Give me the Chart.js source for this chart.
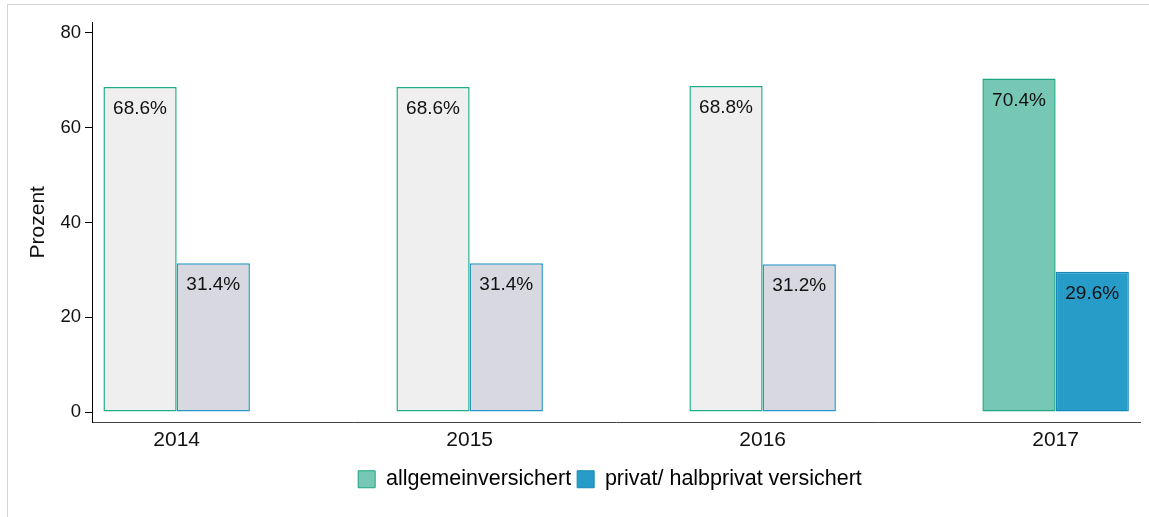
<!DOCTYPE html>
<html>
<head>
<meta charset="utf-8">
<script src="https://cdn.jsdelivr.net/npm/chart.js@4/dist/chart.umd.min.js"></script>
<style>
  html, body { margin: 0; padding: 0; background: #fff; }
  #frame {
    position: absolute; left: 7px; top: 4px; width: 1160px; height: 530px;
    border-top: 1px solid #d4d4d4; border-left: 1px solid #d4d4d4;
  }
  #wrap { position: absolute; left: 0; top: 0; width: 1149px; height: 517px; }
</style>
</head>
<body>
<div id="frame"></div>
<div id="wrap"><canvas id="myChart" width="1149" height="517"></canvas></div>
<script>
const years = ["2014", "2015", "2016", "2017"];
const allgemein = [68.6, 68.6, 68.8, 70.4];
const privat = [31.4, 31.4, 31.2, 29.6];
const yTicks = [0, 20, 40, 60, 80];
const seriesNames = ["allgemeinversichert", "privat/ halbprivat versichert"];

// older years drawn greyed out, only 2017 in full colour
const fill1 = ["#efefef", "#efefef", "#efefef", "#76c8b4"];
const border1 = ["#1fae88", "#1fae88", "#1fae88", "#1fa682"];
const fill2 = ["#d7d8e0", "#d7d8e0", "#d7d8e0", "#279cc8"];
const border2 = ["#2896c6", "#2896c6", "#2896c6", "#1589b9"];

const font = "'Liberation Sans', Arial, sans-serif";

const valueLabels = {
  id: "valueLabels",
  afterDatasetsDraw(chart) {
    const ctx = chart.ctx;
    ctx.save();
    ctx.font = "19px " + font;
    ctx.fillStyle = "#111";
    ctx.textAlign = "center";
    ctx.textBaseline = "middle";
    chart.data.datasets.forEach((ds, i) => {
      chart.getDatasetMeta(i).data.forEach((bar, j) => {
        ctx.fillText(ds.data[j].y.toFixed(1) + "%", bar.x, bar.y + 22);
      });
    });
    ctx.restore();
  }
};

// legend sits centred under the plot area, not the whole canvas
const shiftLegend = {
  id: "shiftLegend",
  afterLayout(chart) {
    chart.legend.left += 40;
    chart.legend.right += 40;
  }
};

new Chart(document.getElementById("myChart").getContext("2d"), {
  type: "bar",
  data: {
    datasets: [
      {
        label: seriesNames[0],
        data: allgemein.map((v, i) => ({ x: i, y: v })),
        backgroundColor: fill1,
        borderColor: border1,
        borderWidth: 1.5,
        borderSkipped: false
      },
      {
        label: seriesNames[1],
        data: privat.map((v, i) => ({ x: i, y: v })),
        backgroundColor: fill2,
        borderColor: border2,
        borderWidth: 1.5,
        borderSkipped: false
      }
    ]
  },
  options: {
    responsive: false,
    animation: false,
    layout: { padding: { left: 0, right: 9, top: 22, bottom: 17 } },
    datasets: { bar: { categoryPercentage: 0.5, barPercentage: 1 } },
    scales: {
      x: {
        type: "linear",
        offset: false,
        min: -0.289,
        max: 3.288,
        afterBuildTicks: (s) => { s.ticks = years.map((_, i) => ({ value: i })); },
        afterFit: (s) => { s.height = 40; },
        ticks: {
          callback: (v) => years[v],
          color: "#111",
          font: { size: 21, family: font },
          padding: 5,
          maxRotation: 0
        },
        grid: { display: false, drawTicks: false, offset: false },
        border: { display: true, color: "#444", width: 1 }
      },
      y: {
        min: -2.2,
        max: 82.3,
        afterBuildTicks: (s) => { s.ticks = yTicks.map((v) => ({ value: v })); },
        afterFit: (s) => { s.width = 92; },
        ticks: {
          color: "#111",
          font: { size: 18.5, family: font },
          padding: 4
        },
        grid: { drawOnChartArea: false, drawTicks: true, tickLength: 7, color: "#000" },
        border: { display: true, color: "#000", width: 1 },
        title: {
          display: true,
          text: "Prozent",
          color: "#111",
          font: { size: 21, family: font },
          padding: { top: 26, bottom: 0 }
        }
      }
    },
    plugins: {
      tooltip: { enabled: false },
      legend: {
        position: "bottom",
        labels: {
          boxWidth: 17,
          boxHeight: 17,
          padding: 6,
          color: "#111",
          font: { size: 21.5, family: font },
          generateLabels: () => [
            { text: seriesNames[0], fillStyle: fill1[3], strokeStyle: border1[3], lineWidth: 1, datasetIndex: 0 },
            { text: seriesNames[1], fillStyle: fill2[3], strokeStyle: border2[3], lineWidth: 1, datasetIndex: 1 }
          ]
        }
      }
    }
  },
  plugins: [valueLabels, shiftLegend]
});
</script>
</body>
</html>
